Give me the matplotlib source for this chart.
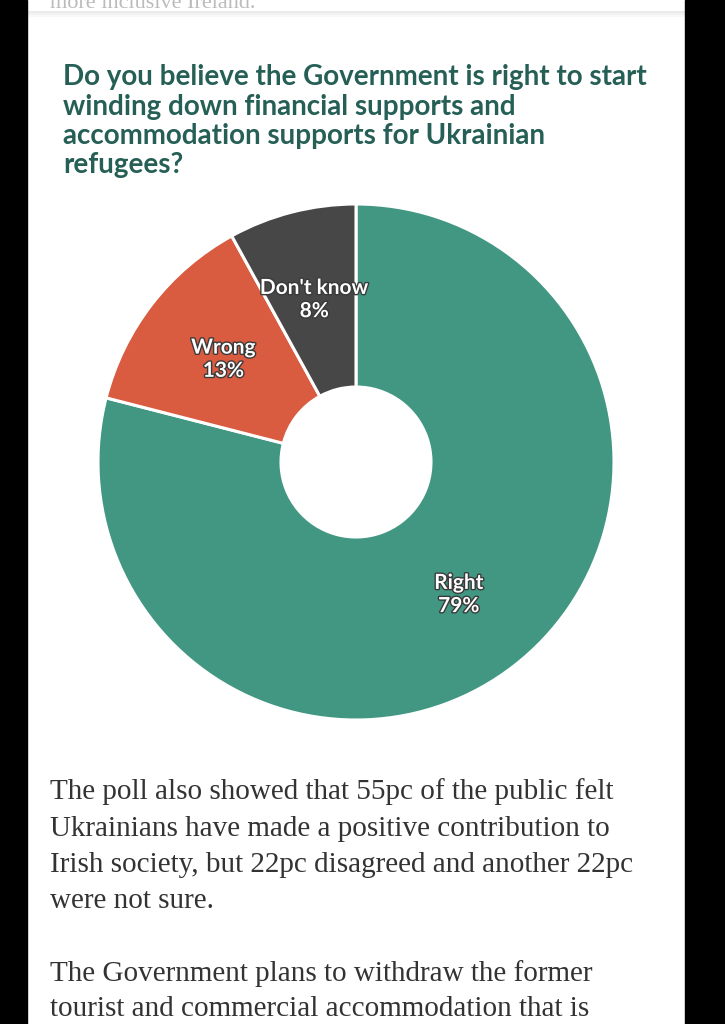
import matplotlib
matplotlib.use('Agg')
import matplotlib.pyplot as plt
import matplotlib.patheffects as pe

# 数据
categories = ['Right', 'Wrong', "Don't know"]
shares = [79, 13, 8]
colors = ['#429783', '#d95b40', '#474747']

title_lines = ['Do you believe the Government is right to start',
               'winding down financial supports and',
               'accommodation supports for Ukrainian',
               'refugees?']
body1 = ['The poll also showed that 55pc of the public felt',
         'Ukrainians have made a positive contribution to',
         'Irish society, but 22pc disagreed and another 22pc',
         'were not sure.']
body2 = ['The Government plans to withdraw the former',
         'tourist and commercial accommodation that is']

W, H = 725, 1024
fig = plt.figure(figsize=(W / 100, H / 100), dpi=100)
fig.patch.set_facecolor('white')

# 左右黑边
fig.add_artist(plt.Rectangle((0, 0), 27 / W, 1, transform=fig.transFigure, color='black'))
fig.add_artist(plt.Rectangle((685 / W, 0), 40 / W, 1, transform=fig.transFigure, color='black'))

# 顶部被截断的文字和阴影
fig.text(50 / W, 1 - 8 / H, 'more inclusive Ireland.', fontsize=16, color='#bbbbbb',
         family='Liberation Serif', va='baseline')
for i, a in enumerate([0.08, 0.05, 0.025]):
    fig.add_artist(plt.Rectangle((27 / W, 1 - (13 + i * 2) / H), 658 / W, 2 / H,
                                 transform=fig.transFigure, color='black', alpha=a, lw=0))

# 标题
for i, line in enumerate(title_lines):
    fig.text(63 / W, 1 - (85 + i * 29.5) / H, line, fontsize=20, fontweight='bold',
             color='#255f56', family='Lato', va='baseline')

# 环形图
cx, cy, r = 356, 462, 258
ax = fig.add_axes([(cx - r) / W, (H - cy - r) / H, 2 * r / W, 2 * r / H])
labels = [f'{c}\n{s}%' for c, s in zip(categories, shares)]
wedges, texts = ax.pie(shares, colors=colors, startangle=90, counterclock=False,
                       labels=labels, labeldistance=0.65,
                       wedgeprops=dict(width=1 - 75 / r, edgecolor='white', linewidth=2.2),
                       textprops=dict(color='white', fontsize=15, fontweight='bold',
                                      family='Lato', ha='center', va='center',
                                      multialignment='center', linespacing=1.2))
for t in texts:
    t.set_path_effects([pe.withStroke(linewidth=2, foreground='#3a3a3a')])
ax.set_xlim(-1, 1)
ax.set_ylim(-1, 1)
ax.set_aspect('equal')
ax.axis('off')

# 正文
for i, line in enumerate(body1):
    fig.text(50 / W, 1 - (799 + i * 36.5) / H, line, fontsize=21, color='#333333',
             family='Liberation Serif', va='baseline')
for i, line in enumerate(body2):
    fig.text(50 / W, 1 - (981 + i * 35.5) / H, line, fontsize=21, color='#333333',
             family='Liberation Serif', va='baseline')

plt.savefig('out.png', dpi=100)
